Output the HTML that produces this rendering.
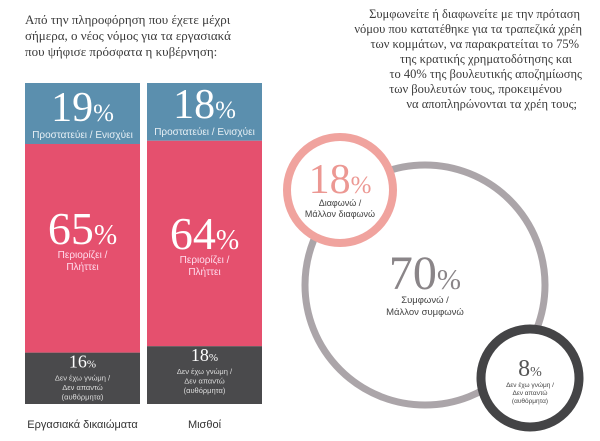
<!DOCTYPE html>
<html><head><meta charset="utf-8">
<style>
body{margin:0;background:#fff;width:600px;height:441px;overflow:hidden}
svg{display:block}
.serif{font-family:"Liberation Serif","DejaVu Serif",serif}
.sans{font-family:"Liberation Sans","DejaVu Sans",sans-serif}
</style></head>
<body>
<svg id="chart" width="600" height="441" viewBox="0 0 600 441">
  <g class="serif" fill="#3a3a3a" font-size="13">
    <text x="25" y="24">Από την πληροφόρηση που έχετε μέχρι</text>
    <text x="25" y="40">σήμερα, ο νέος νόμος για τα εργασιακά</text>
    <text x="25" y="56">που ψήφισε πρόσφατα η κυβέρνηση:</text>
  </g>
  <g class="serif" fill="#3a3a3a" font-size="12.5" text-anchor="end">
    <text x="580" y="18">Συμφωνείτε ή διαφωνείτε με την πρόταση</text>
    <text x="582" y="33">νόμου που κατατέθηκε για τα τραπεζικά χρέη</text>
    <text x="579" y="48">των κομμάτων, να παρακρατείται το 75%</text>
    <text x="572" y="63">της κρατικής χρηματοδότησης και</text>
    <text x="582" y="78">το 40% της βουλευτικής αποζημίωσης</text>
    <text x="562" y="93">των βουλευτών τους, προκειμένου</text>
    <text x="577" y="108">να αποπληρώνονται τα χρέη τους;</text>
  </g>
  <g id="bars"></g>
  <g id="circles"></g>
</svg>
<script>
const categories = ["Εργασιακά δικαιώματα", "Μισθοί"];
const protects = [19, 18];
const limits = [65, 64];
const noAnswer = [16, 18];
const circleLabels = ["Διαφωνώ / Μάλλον διαφωνώ", "Συμφωνώ / Μάλλον συμφωνώ", "Δεν έχω γνώμη / Δεν απαντώ (αυθόρμητα)"];
const circleValues = [18, 70, 8];

const NS = "http://www.w3.org/2000/svg";
function mk(tag, attrs, parent){const e=document.createElementNS(NS,tag);for(const k in attrs)e.setAttribute(k,attrs[k]);parent.appendChild(e);return e;}
const barTop = 83, barH = 321, barW = 115;
const xPos = i => 25 + i*122;
const y = v => barH * v / 100;
const bars = document.getElementById('bars');

function pct(parent, cx, by, val, size, fill){
  const t = mk('text',{x:cx,y:by,'text-anchor':'middle','font-size':size,fill:fill,class:'serif'},parent);
  t.textContent = val;
  const s = mk('tspan',{'font-size':Math.round(size*0.6)},t);
  s.textContent='%';
  return t;
}
function lines(parent, cx, by, arr, size, fill, lh){
  arr.forEach((l,k)=>{const t=mk('text',{x:cx,y:by+k*lh,'text-anchor':'middle','font-size':size,fill:fill,class:'sans'},parent);t.textContent=l;});
}

categories.forEach((c,i)=>{
  const g = mk('g',{},bars);
  
  
  const x = xPos(i), cx = x + barW/2;
  const h1 = y(protects[i]), h2 = y(limits[i]), h3 = y(noAnswer[i]);
  const r1 = mk('rect',{x:x,y:barTop,width:barW,height:h1,fill:'#5b8fae'},g);
  
  
  const r2 = mk('rect',{x:x,y:barTop+h1,width:barW,height:h2,fill:'#e5506e'},g);
  
  
  const r3 = mk('rect',{x:x,y:barTop+h1+h2,width:barW,height:h3,fill:'#4a4a4c'},g);
  
  
  pct(g, cx, barTop+h1-23, protects[i], 42, '#fff');
  lines(g, cx, barTop+h1-6, ['Προστατεύει / Ενισχύει'], 10, '#e8f0f5', 12);
  const mTop = barTop+h1;
  pct(g, cx, mTop+100-(i*-8), limits[i], 46, '#fff');
  lines(g, cx, mTop+114+i*8, ['Περιορίζει /','Πλήττει'], 10, '#fde', 12);
  const gTop = barTop+h1+h2;
  pct(g, cx, gTop+15, noAnswer[i], 18, '#fff');
  lines(g, cx, gTop+28, ['Δεν έχω γνώμη /','Δεν απαντώ','(αυθόρμητα)'], 7.5, '#ddd', 9.5);
  const lab = mk('text',{x:cx,y:428,'text-anchor':'middle','font-size':11,fill:'#333',class:'sans'},g);
  
  
  lab.textContent = c;
});

const circ = document.getElementById('circles');
const cx0=[340,425,530], cy0=[190,285,378], rad=[53,120,49], sw=[8,7,9], col=['#f0a39e','#aba5a9','#444446'], tcol=['#ec9893','#8a8588','#555'];
const order=[1,0,2];
order.forEach(i=>{
  const g = mk('g',{},circ);
  
  
  mk('circle',{cx:cx0[i],cy:cy0[i],r:rad[i],fill:i==1?'none':'#fff',stroke:col[i],'stroke-width':sw[i]},g);
});
const sizes=[42,48,24];
const numY=[193,289,376], labY=[206,303,387], lsz=[9,9.5,6.5], llh=[11,12,8];
const labelLines=[['Διαφωνώ /','Μάλλον διαφωνώ'],['Συμφωνώ /','Μάλλον συμφωνώ'],['Δεν έχω γνώμη /','Δεν απαντώ','(αυθόρμητα)']];
circleValues.forEach((v,i)=>{
  const g = mk('g',{},circ);
  
  
  pct(g, cx0[i], numY[i], v, sizes[i], tcol[i]);
  lines(g, cx0[i], labY[i], labelLines[i], lsz[i], '#444', llh[i]);
});
</script>
</body></html>
